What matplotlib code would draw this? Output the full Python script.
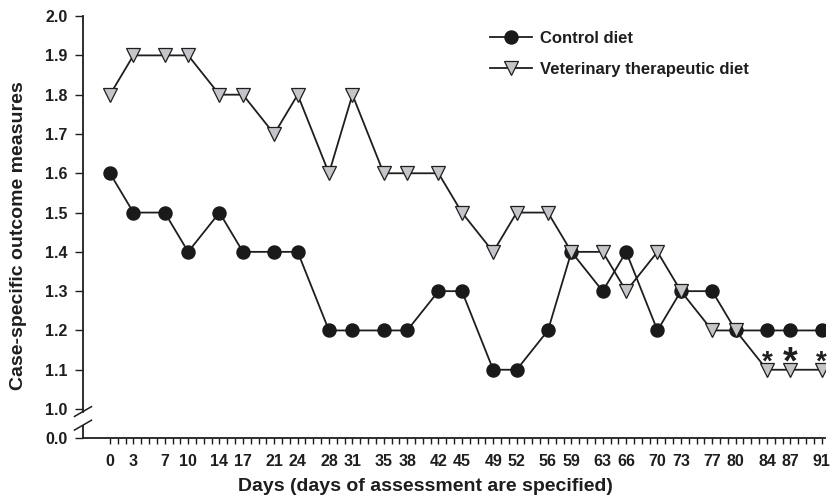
import matplotlib
matplotlib.use("Agg")
import matplotlib.pyplot as plt
import matplotlib.transforms as mtransforms

plt.rcParams['font.family'] = ['Liberation Sans', 'DejaVu Sans']

days = [0, 3, 7, 10, 14, 17, 21, 24, 28, 31, 35, 38, 42, 45, 49, 52, 56, 59,
        63, 66, 70, 73, 77, 80, 84, 87, 91]
control = [1.6, 1.5, 1.5, 1.4, 1.5, 1.4, 1.4, 1.4, 1.2, 1.2, 1.2, 1.2, 1.3, 1.3,
           1.1, 1.1, 1.2, 1.4, 1.3, 1.4, 1.2, 1.3, 1.3, 1.2, 1.2, 1.2, 1.2]
vet = [1.8, 1.9, 1.9, 1.9, 1.8, 1.8, 1.7, 1.8, 1.6, 1.8, 1.6, 1.6, 1.6, 1.5,
       1.4, 1.5, 1.5, 1.4, 1.4, 1.3, 1.4, 1.3, 1.2, 1.2, 1.1, 1.1, 1.1]
sig_days = [84, 87, 91]
sig_vals = [1.1, 1.1, 1.1]
sig_sizes = [20, 27, 20]
ytick_vals = [1.0, 1.1, 1.2, 1.3, 1.4, 1.5, 1.6, 1.7, 1.8, 1.9, 2.0]
ytick_labels = ['1.0', '1.1', '1.2', '1.3', '1.4', '1.5', '1.6', '1.7', '1.8', '1.9', '2.0']

# position on the broken axis where "0.0" is drawn
zero_pos = 0.926
ink = '#1e1e1e'

fig = plt.figure(figsize=(8.34, 5.03), dpi=100)
ax = fig.add_axes([0.0995, 0.129, 0.8895, 0.839])

ax.plot(days, control, '-', color=ink, lw=1.3, marker='o', ms=9.4,
        mfc='#1a1a1a', mec='#1a1a1a', label='Control diet', zorder=3)
ax.plot(days, vet, '-', color=ink, lw=1.3, marker='v', ms=10.5,
        mfc='#c3c5c8', mec=ink, mew=0.9, label='Veterinary therapeutic diet', zorder=4)

for d, v, s in zip(sig_days, sig_vals, sig_sizes):
    ax.annotate('*', xy=(d, v), xytext=(0, 8.4 - 0.42 * s), textcoords='offset points',
                ha='center', va='baseline', fontsize=s, fontweight='bold', color=ink)

ax.set_xlim(-3.45, 91.4)
ax.set_ylim(zero_pos, 2.0)

ax.set_xticks(range(0, 92))
ax.set_xticklabels([str(d) if d in days else '' for d in range(0, 92)])
ax.set_yticks([zero_pos] + ytick_vals)
ax.set_yticklabels(['0.0'] + ytick_labels)
ax.tick_params(axis='both', direction='out', width=1.0, color=ink, labelsize=11.5)
ax.tick_params(axis='y', length=6, pad=5)
ax.tick_params(axis='x', length=4.5, pad=7)
for lab in ax.get_xticklabels() + ax.get_yticklabels():
    lab.set_fontweight('bold')
    lab.set_color(ink)

for s in ['top', 'right']:
    ax.spines[s].set_visible(False)
for s in ['left', 'bottom']:
    ax.spines[s].set_linewidth(1.3)
    ax.spines[s].set_color(ink)

# broken y axis
top_break = 0.9936
bot_break = 0.959
ax.spines['left'].set_bounds(top_break, 2.0)
trans = mtransforms.blended_transform_factory(ax.transAxes, ax.transData)
ax.plot([0, 0], [zero_pos, bot_break], color=ink, lw=1.3, transform=trans,
        clip_on=False, solid_capstyle='butt')
for c in (top_break, bot_break):
    ax.plot([-0.0115, 0.0115], [c - 0.0125, c + 0.0125], color=ink, lw=1.1,
            transform=trans, clip_on=False)

ax.set_xlabel('Days (days of assessment are specified)', fontsize=14, fontweight='bold',
              color=ink)
ax.xaxis.set_label_coords(0.461, -0.095)
ax.set_ylabel('Case-specific outcome measures', fontsize=14, fontweight='bold',
              color=ink)
ax.yaxis.set_label_coords(-0.076, 0.48)

leg = ax.legend(loc='upper left', bbox_to_anchor=(0.549, 0.965), frameon=False,
                handlelength=2.5, labelspacing=0.95, handletextpad=0.5,
                borderpad=0, borderaxespad=0,
                prop={'weight': 'bold', 'size': 12})
for t in leg.get_texts():
    t.set_color(ink)

fig.savefig('out.png', dpi=100)
